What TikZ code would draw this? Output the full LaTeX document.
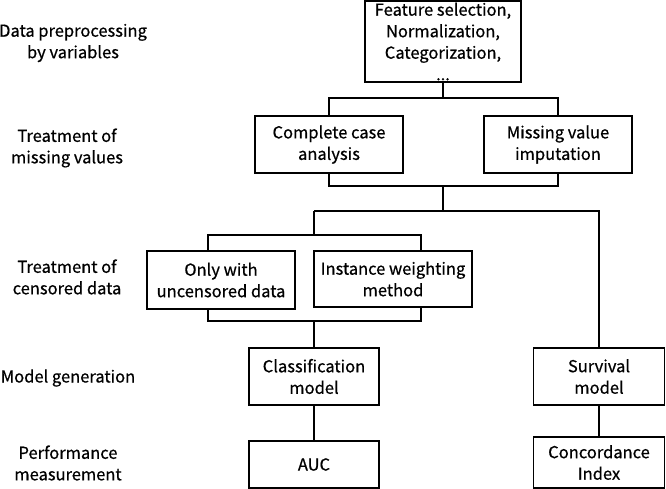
\documentclass[tikz,border=0pt]{standalone}
\usepackage{fontspec}
\setmainfont{Noto Sans CJK KR}[FakeBold=0.6]
\usepackage{tikz}
\usetikzlibrary{positioning}

\begin{document}
\begin{tikzpicture}[x=1pt,y=-1pt,line width=1.2pt,
  font=\fontsize{16.5}{21.5}\selectfont,
  box/.style={draw,align=center,inner sep=0pt,minimum height=57pt},
  lbl/.style={align=center}]

\useasboundingbox (0,0) rectangle (666,489);

% row labels
\node[lbl] (L1) at (73,43)  {Data preprocessing\\by variables};
\node[lbl] (L2) at (67,148) {Treatment of\\missing values};
\node[lbl] (L3) at (67,277) {Treatment of\\censored data};
\node[lbl] (L4) at (68,378) {Model generation};
\node[lbl] (L5) at (68,463) {Performance\\measurement};

% boxes
\node[box, minimum width=156pt, minimum height=81pt] (P1) at (443,41.5) {Feature selection,\\Normalization,\\Categorization,\\...};

\node[box, minimum width=148pt] (M1) at (329,144.5) {Complete case\\analysis};
\node[box, minimum width=148pt] (M2) at (558,144.5) {Missing value\\imputation};

\node[box, minimum width=148pt, minimum height=58pt] (C1) at (221,280) {Only with\\uncensored data};
\node[box, minimum width=158pt, minimum height=56pt] (C2) at (393,279) {Instance weighting\\method};

\node[box, minimum width=130pt] (G1) at (314,376.5) {Classification\\model};
\node[box, minimum width=131pt] (G2) at (599,376.5) {Survival\\model};

\node[box, minimum width=130pt, minimum height=47pt] (E1) at (314,464.5) {AUC};
\node[box, minimum width=131pt, minimum height=51pt] (E2) at (599,462.5) {Concordance\\Index};

% junctions
\coordinate (J1) at (443,98);
\coordinate (J2) at (443,186);
\coordinate (J3) at (443,211);
\coordinate (J4) at (314,211);
\coordinate (J5) at (314,235);
\coordinate (J6) at (314,321);

\draw (P1) -- (J1);
\draw (M1.north) |- (J1) -| (M2.north);
\draw (M1.south) |- (J2) -| (M2.south);
\draw (J2) -- (J3);
\draw (J4) -- (J3) -| (G2.north);
\draw (J4) -- (J5);
\draw ([xshift=-13pt]C1.north) |- (J5) -| ([xshift=28pt]C2.north);
\draw ([xshift=-13pt]C1.south) |- (J6) -| ([xshift=28pt]C2.south);
\draw (J6) -- (G1);
\draw (G1) -- (E1);
\draw (G2) -- (E2);

\end{tikzpicture}
\end{document}
